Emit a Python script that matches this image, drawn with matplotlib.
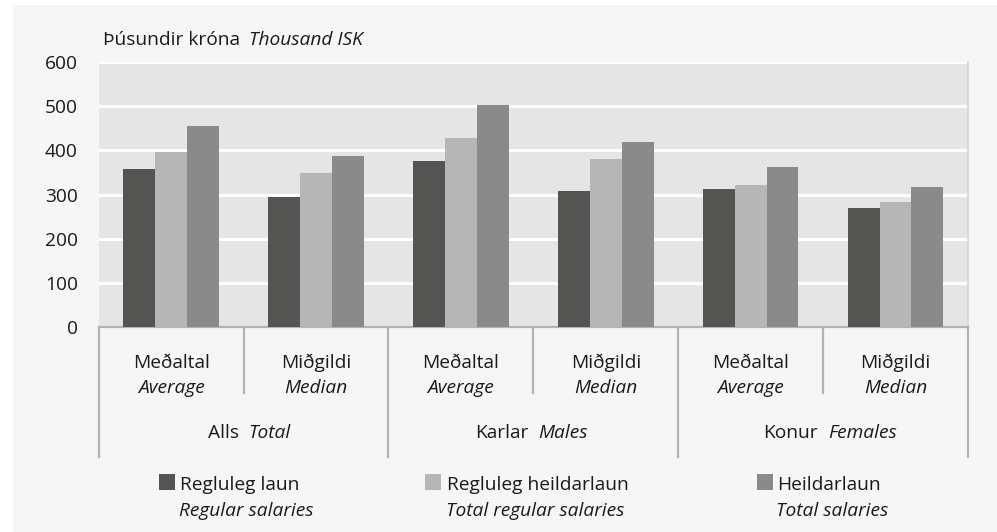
import numpy as np
import matplotlib
matplotlib.use('Agg')
import matplotlib.pyplot as plt
from matplotlib.patches import Rectangle

plt.rcParams['font.family'] = ['Open Sans', 'DejaVu Sans']

# data (thousand ISK)
sub_is = ['Meðaltal', 'Miðgildi'] * 3
sub_en = ['Average', 'Median'] * 3
grp_is = ['Alls', 'Karlar', 'Konur']
grp_en = ['Total', 'Males', 'Females']
regluleg_laun = [357, 294, 376, 308, 312, 269]
regluleg_heildarlaun = [396, 348, 427, 380, 321, 283]
heildarlaun = [455, 387, 502, 418, 362, 317]
series_is = ['Regluleg laun', 'Regluleg heildarlaun', 'Heildarlaun']
series_en = ['Regular salaries', 'Total regular salaries', 'Total salaries']
colors = ['#545452', '#b5b6b5', '#8a8a8a']

FS = 13.8
TXT = '#1a1a1a'
W, H = 997, 532
fig = plt.figure(figsize=(W / 100, H / 100), dpi=100, facecolor='white')
fig.patches.append(Rectangle((13 / W, 0), 1, 1 - 5 / H, transform=fig.transFigure,
                             facecolor='#f6f6f6', edgecolor='none', zorder=-10))

ax_l, ax_r, ax_t, ax_b = 98.7, 968, 61.7, 327.3
ax = fig.add_axes([ax_l / W, 1 - ax_b / H, (ax_r - ax_l) / W, (ax_b - ax_t) / H])
ax.set_facecolor('#e5e5e5')

x = np.arange(6)
bw = 0.22
for i, vals in enumerate([regluleg_laun, regluleg_heildarlaun, heildarlaun]):
    ax.bar(x + (i - 1) * bw, vals, width=bw, color=colors[i], zorder=3)

ax.set_xlim(-0.5, 5.5)
ax.set_ylim(0, 600)
ax.set_yticks(range(0, 601, 100))
ax.yaxis.grid(True, color='white', lw=2.2, zorder=1)
ax.set_axisbelow(True)
ax.tick_params(axis='y', length=0, pad=15, labelsize=FS, labelcolor=TXT)
ax.set_xticks([])
for s in ['left', 'top']:
    ax.spines[s].set_visible(False)
ax.spines['bottom'].set_color('#b3b3b3')
ax.spines['bottom'].set_linewidth(1.6)
ax.spines['right'].set_color('#d6d6d6')
ax.spines['right'].set_linewidth(1.2)

# category separators below the axis
trans = ax.get_xaxis_transform()
ah = ax_b - ax_t
short_y = (ax_b - 393) / ah
long_y = (ax_b - 456.7) / ah
for xs in [-0.5, 1.5, 3.5, 5.5]:
    ax.plot([xs, xs], [0, long_y], transform=trans, color='#b3b3b3', lw=1.6, clip_on=False)
for xs in [0.5, 2.5, 4.5]:
    ax.plot([xs, xs], [0, short_y], transform=trans, color='#b3b3b3', lw=1.6, clip_on=False)

def fy(py):
    return (ax_b - py) / ah

for i in range(6):
    ax.text(x[i], fy(363), sub_is[i], transform=trans, ha='center', va='center', fontsize=FS, color=TXT)
    ax.text(x[i], fy(388), sub_en[i], transform=trans, ha='center', va='center', fontsize=FS,
            style='italic', color=TXT)
for g in range(3):
    cx = 2 * g + 0.5
    ax.annotate(grp_is[g], (cx, fy(433)), xycoords=trans, xytext=(-5, 0), textcoords='offset pixels',
                ha='right', va='center', fontsize=FS, color=TXT)
    ax.annotate(grp_en[g], (cx, fy(433)), xycoords=trans, xytext=(5, 0), textcoords='offset pixels',
                ha='left', va='center', fontsize=FS, style='italic', color=TXT)

# y unit title
fig.text(103 / W, 1 - 40 / H, 'Þúsundir króna', ha='left', va='center', fontsize=FS, color=TXT)
fig.text(249 / W, 1 - 40 / H, 'Thousand ISK', ha='left', va='center', fontsize=FS,
         style='italic', color=TXT)

# legend
leg_sq = [159, 425, 757]
leg_tx = [180, 447, 777]
for i in range(3):
    fig.patches.append(Rectangle((leg_sq[i] / W, 1 - 490 / H), 16 / W, 16 / H,
                                 transform=fig.transFigure, facecolor=colors[i], edgecolor='none'))
    fig.text(leg_tx[i] / W, 1 - 485 / H, series_is[i], ha='left', va='center', fontsize=FS, color=TXT)
    fig.text((leg_tx[i] - 1) / W, 1 - 511 / H, series_en[i], ha='left', va='center', fontsize=FS,
             style='italic', color=TXT)

fig.savefig('out.png', dpi=100, facecolor=fig.get_facecolor())
